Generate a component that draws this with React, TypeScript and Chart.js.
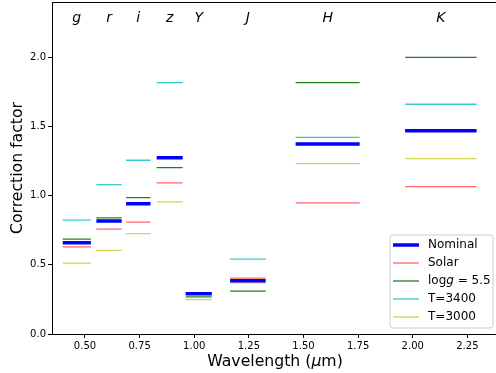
import React, { useEffect, useRef } from "react";
import { Chart, registerables } from "chart.js";

Chart.register(...registerables);

const filters = ["g", "r", "i", "z", "Y", "J", "H", "K"];
const filterLo = [0.398, 0.552, 0.688, 0.828, 0.961, 1.164, 1.464, 1.965];
const filterHi = [0.527, 0.668, 0.8, 0.947, 1.08, 1.327, 1.757, 2.292];

const nominal = [0.659, 0.816, 0.941, 1.275, 0.291, 0.385, 1.374, 1.47];
const solar = [0.63, 0.758, 0.809, 1.092, 0.29, 0.404, 0.948, 1.066];
const logg55 = [0.686, 0.84, 0.986, 1.203, 0.269, 0.31, 1.817, 2.0];
const t3400 = [0.823, 1.08, 1.256, 1.817, 0.298, 0.541, 1.422, 1.661];
const t3000 = [0.513, 0.604, 0.726, 0.955, 0.248, 0.37, 1.232, 1.268];

const xTicks = [0.5, 0.75, 1.0, 1.25, 1.5, 1.75, 2.0, 2.25];
const yTicks = [0.0, 0.5, 1.0, 1.5, 2.0];

const segs = (vals: number[]) => {
  const pts: { x: number; y: number | null }[] = [];
  vals.forEach((v, i) => {
    pts.push({ x: filterLo[i], y: v });
    pts.push({ x: filterHi[i], y: v });
    pts.push({ x: filterHi[i] + 0.001, y: null });
  });
  return pts;
};

const FONT = "'DejaVu Sans', sans-serif";

const seriesDefs = [
  { label: "Nominal", data: nominal, color: "#0000ff", width: 3.5, order: 0 },
  { label: "Solar", data: solar, color: "rgba(255,0,0,0.6)", width: 1.3, order: 4 },
  { label: "logg", data: logg55, color: "rgba(0,120,0,0.9)", width: 1.3, order: 3 },
  { label: "T=3400", data: t3400, color: "rgba(0,191,191,0.8)", width: 1.3, order: 2 },
  { label: "T=3000", data: t3000, color: "rgba(191,191,0,0.7)", width: 1.3, order: 1 },
];

const decorPlugin = {
  id: "decor",
  afterDraw(chart: any) {
    const ctx = chart.ctx;
    const xs = chart.scales.x;
    const ca = chart.chartArea;
    ctx.save();
    // top spine
    ctx.strokeStyle = "#000";
    ctx.lineWidth = 1;
    ctx.beginPath();
    ctx.moveTo(ca.left, ca.top + 0.5);
    ctx.lineTo(ca.right, ca.top + 0.5);
    ctx.stroke();

    // filter labels
    ctx.fillStyle = "#000";
    ctx.font = `italic 14px ${FONT}`;
    ctx.textAlign = "center";
    ctx.textBaseline = "middle";
    filters.forEach((f, i) => {
      const cx = xs.getPixelForValue((filterLo[i] + filterHi[i]) / 2);
      ctx.fillText(f, cx, 18);
    });

    // y title
    ctx.save();
    ctx.translate(18, 168);
    ctx.rotate(-Math.PI / 2);
    ctx.font = `15.7px ${FONT}`;
    ctx.fillText("Correction factor", 0, 0);
    ctx.restore();

    // x title with italic mu
    const parts = [
      { t: "Wavelength (", f: `15.7px ${FONT}` },
      { t: "μ", f: `italic 15.7px ${FONT}` },
      { t: "m)", f: `15.7px ${FONT}` },
    ];
    let total = 0;
    parts.forEach((p) => {
      ctx.font = p.f;
      total += ctx.measureText(p.t).width;
    });
    let px = 275 - total / 2;
    ctx.textAlign = "left";
    parts.forEach((p) => {
      ctx.font = p.f;
      ctx.fillText(p.t, px, 362);
      px += ctx.measureText(p.t).width;
    });

    // legend
    const bx = 390, by = 235, bw = 103, bh = 93, r = 3;
    ctx.beginPath();
    ctx.moveTo(bx + r, by);
    ctx.lineTo(bx + bw - r, by);
    ctx.quadraticCurveTo(bx + bw, by, bx + bw, by + r);
    ctx.lineTo(bx + bw, by + bh - r);
    ctx.quadraticCurveTo(bx + bw, by + bh, bx + bw - r, by + bh);
    ctx.lineTo(bx + r, by + bh);
    ctx.quadraticCurveTo(bx, by + bh, bx, by + bh - r);
    ctx.lineTo(bx, by + r);
    ctx.quadraticCurveTo(bx, by, bx + r, by);
    ctx.closePath();
    ctx.fillStyle = "rgba(255,255,255,0.8)";
    ctx.fill();
    ctx.strokeStyle = "#cccccc";
    ctx.lineWidth = 1;
    ctx.stroke();

    const rows = [245, 263, 281, 299, 317];
    seriesDefs.forEach((s, i) => {
      const y = rows[i];
      ctx.strokeStyle = s.color;
      ctx.lineWidth = s.width;
      ctx.beginPath();
      ctx.moveTo(393, y);
      ctx.lineTo(419, y);
      ctx.stroke();
      ctx.fillStyle = "#000";
      ctx.textBaseline = "middle";
      ctx.textAlign = "left";
      if (s.label === "logg") {
        let lx = 428;
        const segsT = [
          { t: "log", f: `12px ${FONT}` },
          { t: "g", f: `italic 12px ${FONT}` },
          { t: " = 5.5", f: `12px ${FONT}` },
        ];
        segsT.forEach((p) => {
          ctx.font = p.f;
          ctx.fillText(p.t, lx, y);
          lx += ctx.measureText(p.t).width;
        });
      } else {
        ctx.font = `12px ${FONT}`;
        ctx.fillText(s.label, 428, y);
      }
    });
    ctx.restore();
  },
};

export default function App() {
  const ref = useRef<HTMLCanvasElement>(null);
  useEffect(() => {
    const canvas = ref.current!;
    const chart = new Chart(canvas, {
      type: "scatter",
      data: {
        datasets: seriesDefs.map((s) => ({
          label: s.label,
          data: segs(s.data) as any,
          showLine: true,
          spanGaps: false,
          borderColor: s.color,
          backgroundColor: s.color,
          borderWidth: s.width,
          pointRadius: 0,
          pointHoverRadius: 0,
          borderCapStyle: "butt" as const,
          order: s.order,
        })),
      },
      options: {
        responsive: false,
        animation: false,
        devicePixelRatio: 1,
        layout: { padding: { top: 2, right: 0, left: 0, bottom: 0 } },
        plugins: { legend: { display: false }, tooltip: { enabled: false } },
        scales: {
          x: {
            type: "linear",
            min: 0.349,
            max: 2.381,
            afterBuildTicks: (scale: any) => {
              scale.ticks = xTicks.map((v) => ({ value: v }));
            },
            afterFit: (scale: any) => {
              scale.height = 39;
              scale.paddingLeft = 0;
              scale.paddingRight = 0;
            },
            ticks: {
              font: { family: FONT, size: 10 },
              color: "#000",
              padding: 2,
              maxRotation: 0,
              callback: (v: any) => Number(v).toFixed(2),
            },
            grid: {
              drawOnChartArea: false,
              drawTicks: true,
              tickLength: 4,
              color: "#000",
            },
            border: { display: true, color: "#000", width: 1 },
          },
          y: {
            type: "linear",
            min: 0,
            max: 2.4,
            afterBuildTicks: (scale: any) => {
              scale.ticks = yTicks.map((v) => ({ value: v }));
            },
            afterFit: (scale: any) => {
              scale.width = 52;
              scale.paddingTop = 0;
              scale.paddingBottom = 0;
            },
            ticks: {
              font: { family: FONT, size: 10 },
              color: "#000",
              padding: 2,
              callback: (v: any) => Number(v).toFixed(1),
            },
            grid: {
              drawOnChartArea: false,
              drawTicks: true,
              tickLength: 4,
              color: "#000",
            },
            border: { display: true, color: "#000", width: 1 },
          },
        },
      },
      plugins: [decorPlugin],
    });
    return () => chart.destroy();
  }, []);
  return (
    <canvas
      ref={ref}
      width={496}
      height={373}
      style={{ position: "absolute", left: 0, top: 0, width: 496, height: 373 }}
    />
  );
}
